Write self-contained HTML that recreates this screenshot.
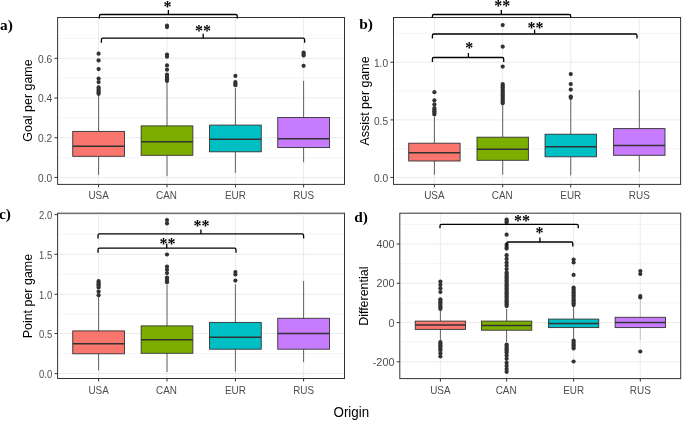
<!DOCTYPE html>
<html lang="en">
<head>
<meta charset="utf-8">
<title>Boxplots by Origin</title>
<style>
html,body{margin:0;padding:0;background:#fff;}
body{width:685px;height:421px;overflow:hidden;}
svg{display:block;}
.tk{font-family:'Liberation Sans', Arial, sans-serif;font-size:9.9px;fill:#4D4D4D;}
.tx{font-family:'Liberation Sans', Arial, sans-serif;fill:#4D4D4D;}
.tt{font-family:'Liberation Sans', Arial, sans-serif;font-size:12.45px;fill:#000;}
.lb{font-family:'Liberation Serif', 'Times New Roman', serif;font-size:15.4px;font-weight:bold;fill:#000;}
.st{font-family:'Liberation Serif', 'Times New Roman', serif;font-size:16px;font-weight:bold;fill:#000;}
</style>
</head>
<body>
<svg width="685" height="421" viewBox="0 0 685 421">
<defs><filter id="soft" x="0" y="0" width="685" height="421" filterUnits="userSpaceOnUse"><feGaussianBlur stdDeviation="0.33"/></filter></defs>
<rect x="0" y="0" width="685" height="421" fill="#fff"/>
<g filter="url(#soft)">
<rect x="57.6" y="17.5" width="286.9" height="166.9" fill="#fff"/>
<line x1="57.6" x2="344.5" y1="157.5" y2="157.5" stroke="#EBEBEB" stroke-width="0.5"/>
<line x1="57.6" x2="344.5" y1="117.8" y2="117.8" stroke="#EBEBEB" stroke-width="0.5"/>
<line x1="57.6" x2="344.5" y1="78.1" y2="78.1" stroke="#EBEBEB" stroke-width="0.5"/>
<line x1="57.6" x2="344.5" y1="38.5" y2="38.5" stroke="#EBEBEB" stroke-width="0.5"/>
<line x1="57.6" x2="344.5" y1="177.45" y2="177.45" stroke="#EBEBEB" stroke-width="1"/>
<line x1="57.6" x2="344.5" y1="137.7" y2="137.7" stroke="#EBEBEB" stroke-width="1"/>
<line x1="57.6" x2="344.5" y1="98" y2="98" stroke="#EBEBEB" stroke-width="1"/>
<line x1="57.6" x2="344.5" y1="58.3" y2="58.3" stroke="#EBEBEB" stroke-width="1"/>
<line x1="98.6" x2="98.6" y1="17.5" y2="184.4" stroke="#EBEBEB" stroke-width="1"/>
<line x1="167" x2="167" y1="17.5" y2="184.4" stroke="#EBEBEB" stroke-width="1"/>
<line x1="235.4" x2="235.4" y1="17.5" y2="184.4" stroke="#EBEBEB" stroke-width="1"/>
<line x1="303.6" x2="303.6" y1="17.5" y2="184.4" stroke="#EBEBEB" stroke-width="1"/>
<line x1="98.6" x2="98.6" y1="95" y2="131.4" stroke="#333" stroke-width="0.75"/>
<line x1="98.6" x2="98.6" y1="156.3" y2="174.9" stroke="#333" stroke-width="0.75"/>
<rect x="72.75" y="131.4" width="51.7" height="24.9" fill="#F8766D" stroke="#333" stroke-width="0.9"/>
<line x1="72.75" x2="124.45" y1="146.2" y2="146.2" stroke="#333" stroke-width="1.5"/>
<circle cx="98.6" cy="53.7" r="2.1" fill="#333"/>
<circle cx="98.6" cy="60.4" r="2.1" fill="#333"/>
<circle cx="98.6" cy="69.1" r="2.1" fill="#333"/>
<circle cx="98.6" cy="78.5" r="2.1" fill="#333"/>
<circle cx="98.6" cy="82.1" r="2.1" fill="#333"/>
<circle cx="98.6" cy="87.4" r="2.1" fill="#333"/>
<circle cx="98.6" cy="89" r="2.1" fill="#333"/>
<circle cx="98.6" cy="90.6" r="2.1" fill="#333"/>
<circle cx="98.6" cy="92.2" r="2.1" fill="#333"/>
<circle cx="98.6" cy="93.8" r="2.1" fill="#333"/>
<line x1="167" x2="167" y1="83" y2="125.9" stroke="#333" stroke-width="0.75"/>
<line x1="167" x2="167" y1="155.3" y2="176.2" stroke="#333" stroke-width="0.75"/>
<rect x="141.15" y="125.9" width="51.7" height="29.4" fill="#7CAE00" stroke="#333" stroke-width="0.9"/>
<line x1="141.15" x2="192.85" y1="141.7" y2="141.7" stroke="#333" stroke-width="1.5"/>
<circle cx="167" cy="25.7" r="2.1" fill="#333"/>
<circle cx="167" cy="27.1" r="2.1" fill="#333"/>
<circle cx="167" cy="54.5" r="2.1" fill="#333"/>
<circle cx="167" cy="56.7" r="2.1" fill="#333"/>
<circle cx="167" cy="65.4" r="2.1" fill="#333"/>
<circle cx="167" cy="69.7" r="2.1" fill="#333"/>
<circle cx="167" cy="74.5" r="2.1" fill="#333"/>
<circle cx="167" cy="76.1" r="2.1" fill="#333"/>
<circle cx="167" cy="77.7" r="2.1" fill="#333"/>
<circle cx="167" cy="79.3" r="2.1" fill="#333"/>
<circle cx="167" cy="80.9" r="2.1" fill="#333"/>
<line x1="235.4" x2="235.4" y1="88" y2="125.1" stroke="#333" stroke-width="0.75"/>
<line x1="235.4" x2="235.4" y1="151.8" y2="172.9" stroke="#333" stroke-width="0.75"/>
<rect x="209.55" y="125.1" width="51.7" height="26.7" fill="#00BFC4" stroke="#333" stroke-width="0.9"/>
<line x1="209.55" x2="261.25" y1="139.2" y2="139.2" stroke="#333" stroke-width="1.5"/>
<circle cx="235.4" cy="75.9" r="2.1" fill="#333"/>
<circle cx="235.4" cy="82" r="2.1" fill="#333"/>
<circle cx="235.4" cy="83.6" r="2.1" fill="#333"/>
<circle cx="235.4" cy="85.2" r="2.1" fill="#333"/>
<line x1="303.6" x2="303.6" y1="80.9" y2="117.5" stroke="#333" stroke-width="0.75"/>
<line x1="303.6" x2="303.6" y1="147.6" y2="162.3" stroke="#333" stroke-width="0.75"/>
<rect x="277.75" y="117.5" width="51.7" height="30.1" fill="#C77CFF" stroke="#333" stroke-width="0.9"/>
<line x1="277.75" x2="329.45" y1="138.7" y2="138.7" stroke="#333" stroke-width="1.5"/>
<circle cx="303.6" cy="52.5" r="2.1" fill="#333"/>
<circle cx="303.6" cy="54" r="2.1" fill="#333"/>
<circle cx="303.6" cy="55.5" r="2.1" fill="#333"/>
<circle cx="303.6" cy="65.8" r="2.1" fill="#333"/>
<rect x="57.6" y="17.5" width="286.9" height="166.9" fill="none" stroke="#333" stroke-width="1"/>
<line x1="54.5" x2="57.6" y1="177.45" y2="177.45" stroke="#333" stroke-width="1"/>
<text transform="translate(52.2,181.65) scale(1,1)" text-anchor="end" class="tx" font-size="10.2">0.0</text>
<line x1="54.5" x2="57.6" y1="137.7" y2="137.7" stroke="#333" stroke-width="1"/>
<text transform="translate(52.2,141.9) scale(1,1)" text-anchor="end" class="tx" font-size="10.2">0.2</text>
<line x1="54.5" x2="57.6" y1="98" y2="98" stroke="#333" stroke-width="1"/>
<text transform="translate(52.2,102.2) scale(1,1)" text-anchor="end" class="tx" font-size="10.2">0.4</text>
<line x1="54.5" x2="57.6" y1="58.3" y2="58.3" stroke="#333" stroke-width="1"/>
<text transform="translate(52.2,62.5) scale(1,1)" text-anchor="end" class="tx" font-size="10.2">0.6</text>
<line x1="98.6" x2="98.6" y1="184.4" y2="187.4" stroke="#333" stroke-width="1"/>
<text transform="translate(98.6,199.1) scale(0.92,1)" text-anchor="middle" class="tx" font-size="10.8">USA</text>
<line x1="167" x2="167" y1="184.4" y2="187.4" stroke="#333" stroke-width="1"/>
<text transform="translate(166.5,199.1) scale(0.92,1)" text-anchor="middle" class="tx" font-size="10.8">CAN</text>
<line x1="235.4" x2="235.4" y1="184.4" y2="187.4" stroke="#333" stroke-width="1"/>
<text transform="translate(235.4,199.1) scale(0.92,1)" text-anchor="middle" class="tx" font-size="10.8">EUR</text>
<line x1="303.6" x2="303.6" y1="184.4" y2="187.4" stroke="#333" stroke-width="1"/>
<text transform="translate(303.6,199.1) scale(0.92,1)" text-anchor="middle" class="tx" font-size="10.8">RUS</text>
<text transform="translate(31.5,100.5) rotate(-90)" text-anchor="middle" class="tt">Goal per game</text>
<text x="0.1" y="30.4" class="lb">a)</text>
<path d="M99.4 18.5 V16 Q99.4 14.5 100.9 14.5 H235.8 Q237.3 14.5 237.3 16 V18.5 M168.4 14.5 V10" fill="none" stroke="#000" stroke-width="1.3"/>
<text x="167.5" y="11.8" text-anchor="middle" class="st">*</text>
<path d="M101.4 42.7 V39.7 Q101.4 38.2 102.9 38.2 H303.1 Q304.6 38.2 304.6 39.7 V42.7 M203.2 38.2 V33.7" fill="none" stroke="#000" stroke-width="1.3"/>
<text x="203" y="36" text-anchor="middle" class="st">**</text>
<rect x="393.5" y="17.5" width="287.1" height="166.9" fill="#fff"/>
<line x1="393.5" x2="680.6" y1="148.7" y2="148.7" stroke="#EBEBEB" stroke-width="0.5"/>
<line x1="393.5" x2="680.6" y1="91" y2="91" stroke="#EBEBEB" stroke-width="0.5"/>
<line x1="393.5" x2="680.6" y1="33.4" y2="33.4" stroke="#EBEBEB" stroke-width="0.5"/>
<line x1="393.5" x2="680.6" y1="177.45" y2="177.45" stroke="#EBEBEB" stroke-width="1"/>
<line x1="393.5" x2="680.6" y1="119.9" y2="119.9" stroke="#EBEBEB" stroke-width="1"/>
<line x1="393.5" x2="680.6" y1="62.2" y2="62.2" stroke="#EBEBEB" stroke-width="1"/>
<line x1="434.4" x2="434.4" y1="17.5" y2="184.4" stroke="#EBEBEB" stroke-width="1"/>
<line x1="502.7" x2="502.7" y1="17.5" y2="184.4" stroke="#EBEBEB" stroke-width="1"/>
<line x1="570.75" x2="570.75" y1="17.5" y2="184.4" stroke="#EBEBEB" stroke-width="1"/>
<line x1="639.3" x2="639.3" y1="17.5" y2="184.4" stroke="#EBEBEB" stroke-width="1"/>
<line x1="434.4" x2="434.4" y1="117" y2="143.2" stroke="#333" stroke-width="0.75"/>
<line x1="434.4" x2="434.4" y1="161" y2="174.8" stroke="#333" stroke-width="0.75"/>
<rect x="408.7" y="143.2" width="51.4" height="17.8" fill="#F8766D" stroke="#333" stroke-width="0.9"/>
<line x1="408.7" x2="460.1" y1="152.7" y2="152.7" stroke="#333" stroke-width="1.5"/>
<circle cx="434.4" cy="92.2" r="2.1" fill="#333"/>
<circle cx="434.4" cy="100.3" r="2.1" fill="#333"/>
<circle cx="434.4" cy="104.4" r="2.1" fill="#333"/>
<circle cx="434.4" cy="108" r="2.1" fill="#333"/>
<circle cx="434.4" cy="109.6" r="2.1" fill="#333"/>
<circle cx="434.4" cy="111.2" r="2.1" fill="#333"/>
<circle cx="434.4" cy="112.8" r="2.1" fill="#333"/>
<circle cx="434.4" cy="114.4" r="2.1" fill="#333"/>
<line x1="502.7" x2="502.7" y1="104" y2="137.2" stroke="#333" stroke-width="0.75"/>
<line x1="502.7" x2="502.7" y1="160.3" y2="174.8" stroke="#333" stroke-width="0.75"/>
<rect x="477" y="137.2" width="51.4" height="23.1" fill="#7CAE00" stroke="#333" stroke-width="0.9"/>
<line x1="477" x2="528.4" y1="149.2" y2="149.2" stroke="#333" stroke-width="1.5"/>
<circle cx="502.7" cy="25.1" r="2.1" fill="#333"/>
<circle cx="502.7" cy="46.7" r="2.1" fill="#333"/>
<circle cx="502.7" cy="66.6" r="2.1" fill="#333"/>
<circle cx="502.7" cy="84" r="2.1" fill="#333"/>
<circle cx="502.7" cy="85.6" r="2.1" fill="#333"/>
<circle cx="502.7" cy="87.2" r="2.1" fill="#333"/>
<circle cx="502.7" cy="88.8" r="2.1" fill="#333"/>
<circle cx="502.7" cy="90.4" r="2.1" fill="#333"/>
<circle cx="502.7" cy="92" r="2.1" fill="#333"/>
<circle cx="502.7" cy="93.6" r="2.1" fill="#333"/>
<circle cx="502.7" cy="95.2" r="2.1" fill="#333"/>
<circle cx="502.7" cy="96.8" r="2.1" fill="#333"/>
<circle cx="502.7" cy="98.4" r="2.1" fill="#333"/>
<circle cx="502.7" cy="100" r="2.1" fill="#333"/>
<circle cx="502.7" cy="101.6" r="2.1" fill="#333"/>
<circle cx="502.7" cy="103.2" r="2.1" fill="#333"/>
<line x1="570.75" x2="570.75" y1="98.5" y2="134.2" stroke="#333" stroke-width="0.75"/>
<line x1="570.75" x2="570.75" y1="156.8" y2="175.4" stroke="#333" stroke-width="0.75"/>
<rect x="545.05" y="134.2" width="51.4" height="22.6" fill="#00BFC4" stroke="#333" stroke-width="0.9"/>
<line x1="545.05" x2="596.45" y1="146.7" y2="146.7" stroke="#333" stroke-width="1.5"/>
<circle cx="570.75" cy="74.1" r="2.1" fill="#333"/>
<circle cx="570.75" cy="84.1" r="2.1" fill="#333"/>
<circle cx="570.75" cy="89.6" r="2.1" fill="#333"/>
<circle cx="570.75" cy="96.5" r="2.1" fill="#333"/>
<circle cx="570.75" cy="97.8" r="2.1" fill="#333"/>
<line x1="639.3" x2="639.3" y1="90" y2="128.6" stroke="#333" stroke-width="0.75"/>
<line x1="639.3" x2="639.3" y1="155.3" y2="171.6" stroke="#333" stroke-width="0.75"/>
<rect x="613.6" y="128.6" width="51.4" height="26.7" fill="#C77CFF" stroke="#333" stroke-width="0.9"/>
<line x1="613.6" x2="665" y1="145.5" y2="145.5" stroke="#333" stroke-width="1.5"/>
<rect x="393.5" y="17.5" width="287.1" height="166.9" fill="none" stroke="#333" stroke-width="1"/>
<line x1="390.4" x2="393.5" y1="177.45" y2="177.45" stroke="#333" stroke-width="1"/>
<text transform="translate(388.1,182.05) scale(0.97,1)" text-anchor="end" class="tx" font-size="10.5">0.0</text>
<line x1="390.4" x2="393.5" y1="119.9" y2="119.9" stroke="#333" stroke-width="1"/>
<text transform="translate(388.1,124.5) scale(0.97,1)" text-anchor="end" class="tx" font-size="10.5">0.5</text>
<line x1="390.4" x2="393.5" y1="62.2" y2="62.2" stroke="#333" stroke-width="1"/>
<text transform="translate(388.1,66.8) scale(0.97,1)" text-anchor="end" class="tx" font-size="10.5">1.0</text>
<line x1="434.4" x2="434.4" y1="184.4" y2="187.4" stroke="#333" stroke-width="1"/>
<text transform="translate(434.4,199.1) scale(0.92,1)" text-anchor="middle" class="tx" font-size="10.8">USA</text>
<line x1="502.7" x2="502.7" y1="184.4" y2="187.4" stroke="#333" stroke-width="1"/>
<text transform="translate(502.2,199.1) scale(0.92,1)" text-anchor="middle" class="tx" font-size="10.8">CAN</text>
<line x1="570.75" x2="570.75" y1="184.4" y2="187.4" stroke="#333" stroke-width="1"/>
<text transform="translate(570.75,199.1) scale(0.92,1)" text-anchor="middle" class="tx" font-size="10.8">EUR</text>
<line x1="639.3" x2="639.3" y1="184.4" y2="187.4" stroke="#333" stroke-width="1"/>
<text transform="translate(639.3,199.1) scale(0.92,1)" text-anchor="middle" class="tx" font-size="10.8">RUS</text>
<text transform="translate(368.5,101) rotate(-90)" text-anchor="middle" class="tt">Assist per game</text>
<text x="359.3" y="29.2" class="lb">b)</text>
<path d="M432.4 18 V16 Q432.4 14.5 433.9 14.5 H569.2 Q570.7 14.5 570.7 16 V18 M501.3 14.5 V10" fill="none" stroke="#000" stroke-width="1.3"/>
<text x="502.3" y="11.2" text-anchor="middle" class="st">**</text>
<path d="M432.4 38.5 V35.5 Q432.4 34 433.9 34 H635.5 Q637 34 637 35.5 V38.5 M534.6 34 V29.5" fill="none" stroke="#000" stroke-width="1.3"/>
<text x="535.4" y="33.3" text-anchor="middle" class="st">**</text>
<path d="M432.4 62 V59 Q432.4 57.5 433.9 57.5 H502.2 Q503.7 57.5 503.7 59 V62 M468.4 57.5 V53" fill="none" stroke="#000" stroke-width="1.3"/>
<text x="469.3" y="53.3" text-anchor="middle" class="st">*</text>
<rect x="57.6" y="213.2" width="286.9" height="165.3" fill="#fff"/>
<line x1="57.6" x2="344.5" y1="353.6" y2="353.6" stroke="#EBEBEB" stroke-width="0.5"/>
<line x1="57.6" x2="344.5" y1="313.9" y2="313.9" stroke="#EBEBEB" stroke-width="0.5"/>
<line x1="57.6" x2="344.5" y1="274.3" y2="274.3" stroke="#EBEBEB" stroke-width="0.5"/>
<line x1="57.6" x2="344.5" y1="234.4" y2="234.4" stroke="#EBEBEB" stroke-width="0.5"/>
<line x1="57.6" x2="344.5" y1="373.6" y2="373.6" stroke="#EBEBEB" stroke-width="1"/>
<line x1="57.6" x2="344.5" y1="333.5" y2="333.5" stroke="#EBEBEB" stroke-width="1"/>
<line x1="57.6" x2="344.5" y1="294.3" y2="294.3" stroke="#EBEBEB" stroke-width="1"/>
<line x1="57.6" x2="344.5" y1="254.3" y2="254.3" stroke="#EBEBEB" stroke-width="1"/>
<line x1="57.6" x2="344.5" y1="214.6" y2="214.6" stroke="#EBEBEB" stroke-width="1"/>
<line x1="98.6" x2="98.6" y1="213.2" y2="378.5" stroke="#EBEBEB" stroke-width="1"/>
<line x1="167" x2="167" y1="213.2" y2="378.5" stroke="#EBEBEB" stroke-width="1"/>
<line x1="235.4" x2="235.4" y1="213.2" y2="378.5" stroke="#EBEBEB" stroke-width="1"/>
<line x1="303.6" x2="303.6" y1="213.2" y2="378.5" stroke="#EBEBEB" stroke-width="1"/>
<line x1="98.6" x2="98.6" y1="296" y2="330.9" stroke="#333" stroke-width="0.75"/>
<line x1="98.6" x2="98.6" y1="353.8" y2="370.4" stroke="#333" stroke-width="0.75"/>
<rect x="72.75" y="330.9" width="51.7" height="22.9" fill="#F8766D" stroke="#333" stroke-width="0.9"/>
<line x1="72.75" x2="124.45" y1="343.7" y2="343.7" stroke="#333" stroke-width="1.5"/>
<circle cx="98.6" cy="281" r="2.1" fill="#333"/>
<circle cx="98.6" cy="282.6" r="2.1" fill="#333"/>
<circle cx="98.6" cy="284.2" r="2.1" fill="#333"/>
<circle cx="98.6" cy="285.8" r="2.1" fill="#333"/>
<circle cx="98.6" cy="287.4" r="2.1" fill="#333"/>
<circle cx="98.6" cy="291.5" r="2.1" fill="#333"/>
<circle cx="98.6" cy="295.2" r="2.1" fill="#333"/>
<line x1="167" x2="167" y1="285" y2="325.9" stroke="#333" stroke-width="0.75"/>
<line x1="167" x2="167" y1="353.3" y2="372" stroke="#333" stroke-width="0.75"/>
<rect x="141.15" y="325.9" width="51.7" height="27.4" fill="#7CAE00" stroke="#333" stroke-width="0.9"/>
<line x1="141.15" x2="192.85" y1="339.7" y2="339.7" stroke="#333" stroke-width="1.5"/>
<circle cx="167" cy="220" r="2.1" fill="#333"/>
<circle cx="167" cy="223.4" r="2.1" fill="#333"/>
<circle cx="167" cy="254.5" r="2.1" fill="#333"/>
<circle cx="167" cy="266.6" r="2.1" fill="#333"/>
<circle cx="167" cy="269.7" r="2.1" fill="#333"/>
<circle cx="167" cy="273.1" r="2.1" fill="#333"/>
<circle cx="167" cy="277.5" r="2.1" fill="#333"/>
<circle cx="167" cy="279.1" r="2.1" fill="#333"/>
<circle cx="167" cy="280.7" r="2.1" fill="#333"/>
<circle cx="167" cy="282.3" r="2.1" fill="#333"/>
<line x1="235.4" x2="235.4" y1="284.2" y2="322.4" stroke="#333" stroke-width="0.75"/>
<line x1="235.4" x2="235.4" y1="349.2" y2="371.6" stroke="#333" stroke-width="0.75"/>
<rect x="209.55" y="322.4" width="51.7" height="26.8" fill="#00BFC4" stroke="#333" stroke-width="0.9"/>
<line x1="209.55" x2="261.25" y1="337.2" y2="337.2" stroke="#333" stroke-width="1.5"/>
<circle cx="235.4" cy="272" r="2.1" fill="#333"/>
<circle cx="235.4" cy="274.5" r="2.1" fill="#333"/>
<circle cx="235.4" cy="280.6" r="2.1" fill="#333"/>
<line x1="303.6" x2="303.6" y1="281" y2="318.3" stroke="#333" stroke-width="0.75"/>
<line x1="303.6" x2="303.6" y1="349.2" y2="362" stroke="#333" stroke-width="0.75"/>
<rect x="277.75" y="318.3" width="51.7" height="30.9" fill="#C77CFF" stroke="#333" stroke-width="0.9"/>
<line x1="277.75" x2="329.45" y1="333.4" y2="333.4" stroke="#333" stroke-width="1.5"/>
<rect x="57.6" y="213.2" width="286.9" height="165.3" fill="none" stroke="#333" stroke-width="1"/>
<line x1="54.5" x2="57.6" y1="373.6" y2="373.6" stroke="#333" stroke-width="1"/>
<text transform="translate(52.2,378.3) scale(0.92,1)" text-anchor="end" class="tx" font-size="10.3">0.0</text>
<line x1="54.5" x2="57.6" y1="333.5" y2="333.5" stroke="#333" stroke-width="1"/>
<text transform="translate(52.2,338.2) scale(0.92,1)" text-anchor="end" class="tx" font-size="10.3">0.5</text>
<line x1="54.5" x2="57.6" y1="294.3" y2="294.3" stroke="#333" stroke-width="1"/>
<text transform="translate(52.2,299) scale(0.92,1)" text-anchor="end" class="tx" font-size="10.3">1.0</text>
<line x1="54.5" x2="57.6" y1="254.3" y2="254.3" stroke="#333" stroke-width="1"/>
<text transform="translate(52.2,259) scale(0.92,1)" text-anchor="end" class="tx" font-size="10.3">1.5</text>
<line x1="54.5" x2="57.6" y1="214.6" y2="214.6" stroke="#333" stroke-width="1"/>
<text transform="translate(52.2,219.3) scale(0.92,1)" text-anchor="end" class="tx" font-size="10.3">2.0</text>
<line x1="98.6" x2="98.6" y1="378.5" y2="381.5" stroke="#333" stroke-width="1"/>
<text transform="translate(98.6,393.9) scale(0.92,1)" text-anchor="middle" class="tx" font-size="10.8">USA</text>
<line x1="167" x2="167" y1="378.5" y2="381.5" stroke="#333" stroke-width="1"/>
<text transform="translate(166.5,393.9) scale(0.92,1)" text-anchor="middle" class="tx" font-size="10.8">CAN</text>
<line x1="235.4" x2="235.4" y1="378.5" y2="381.5" stroke="#333" stroke-width="1"/>
<text transform="translate(235.4,393.9) scale(0.92,1)" text-anchor="middle" class="tx" font-size="10.8">EUR</text>
<line x1="303.6" x2="303.6" y1="378.5" y2="381.5" stroke="#333" stroke-width="1"/>
<text transform="translate(303.6,393.9) scale(0.92,1)" text-anchor="middle" class="tx" font-size="10.8">RUS</text>
<text transform="translate(31.5,296.1) rotate(-90)" text-anchor="middle" class="tt">Point per game</text>
<text x="-1" y="219" class="lb">c)</text>
<path d="M98 238.4 V235.4 Q98 233.9 99.5 233.9 H302.1 Q303.6 233.9 303.6 235.4 V238.4 M200.9 233.9 V229.4" fill="none" stroke="#000" stroke-width="1.3"/>
<text x="201.5" y="231.4" text-anchor="middle" class="st">**</text>
<path d="M98 252.7 V249.7 Q98 248.2 99.5 248.2 H234.5 Q236 248.2 236 249.7 V252.7 M166.7 248.2 V243.7" fill="none" stroke="#000" stroke-width="1.3"/>
<text x="167.6" y="248.5" text-anchor="middle" class="st">**</text>
<rect x="399.8" y="213.2" width="280.9" height="165.4" fill="#fff"/>
<line x1="399.8" x2="680.7" y1="342.2" y2="342.2" stroke="#EBEBEB" stroke-width="0.5"/>
<line x1="399.8" x2="680.7" y1="303" y2="303" stroke="#EBEBEB" stroke-width="0.5"/>
<line x1="399.8" x2="680.7" y1="263.7" y2="263.7" stroke="#EBEBEB" stroke-width="0.5"/>
<line x1="399.8" x2="680.7" y1="224.4" y2="224.4" stroke="#EBEBEB" stroke-width="0.5"/>
<line x1="399.8" x2="680.7" y1="361.8" y2="361.8" stroke="#EBEBEB" stroke-width="1"/>
<line x1="399.8" x2="680.7" y1="322.6" y2="322.6" stroke="#EBEBEB" stroke-width="1"/>
<line x1="399.8" x2="680.7" y1="283.3" y2="283.3" stroke="#EBEBEB" stroke-width="1"/>
<line x1="399.8" x2="680.7" y1="244" y2="244" stroke="#EBEBEB" stroke-width="1"/>
<line x1="440.4" x2="440.4" y1="213.2" y2="378.6" stroke="#EBEBEB" stroke-width="1"/>
<line x1="506.6" x2="506.6" y1="213.2" y2="378.6" stroke="#EBEBEB" stroke-width="1"/>
<line x1="573.6" x2="573.6" y1="213.2" y2="378.6" stroke="#EBEBEB" stroke-width="1"/>
<line x1="640.3" x2="640.3" y1="213.2" y2="378.6" stroke="#EBEBEB" stroke-width="1"/>
<line x1="440.4" x2="440.4" y1="311" y2="321.1" stroke="#333" stroke-width="0.75"/>
<line x1="440.4" x2="440.4" y1="329.4" y2="340" stroke="#333" stroke-width="0.75"/>
<rect x="415.25" y="321.1" width="50.3" height="8.3" fill="#F8766D" stroke="#333" stroke-width="0.9"/>
<line x1="415.25" x2="465.55" y1="325.1" y2="325.1" stroke="#333" stroke-width="1.5"/>
<circle cx="440.4" cy="281.5" r="2.1" fill="#333"/>
<circle cx="440.4" cy="284.9" r="2.1" fill="#333"/>
<circle cx="440.4" cy="288.3" r="2.1" fill="#333"/>
<circle cx="440.4" cy="292" r="2.1" fill="#333"/>
<circle cx="440.4" cy="299.3" r="2.1" fill="#333"/>
<circle cx="440.4" cy="300.9" r="2.1" fill="#333"/>
<circle cx="440.4" cy="302.5" r="2.1" fill="#333"/>
<circle cx="440.4" cy="304.1" r="2.1" fill="#333"/>
<circle cx="440.4" cy="305.7" r="2.1" fill="#333"/>
<circle cx="440.4" cy="307.3" r="2.1" fill="#333"/>
<circle cx="440.4" cy="308.9" r="2.1" fill="#333"/>
<circle cx="440.4" cy="342" r="2.1" fill="#333"/>
<circle cx="440.4" cy="343.6" r="2.1" fill="#333"/>
<circle cx="440.4" cy="345.2" r="2.1" fill="#333"/>
<circle cx="440.4" cy="346.8" r="2.1" fill="#333"/>
<circle cx="440.4" cy="348.4" r="2.1" fill="#333"/>
<circle cx="440.4" cy="350.2" r="2.1" fill="#333"/>
<circle cx="440.4" cy="353.3" r="2.1" fill="#333"/>
<circle cx="440.4" cy="356.5" r="2.1" fill="#333"/>
<line x1="506.6" x2="506.6" y1="309" y2="321.1" stroke="#333" stroke-width="0.75"/>
<line x1="506.6" x2="506.6" y1="330.2" y2="342" stroke="#333" stroke-width="0.75"/>
<rect x="481.45" y="321.1" width="50.3" height="9.1" fill="#7CAE00" stroke="#333" stroke-width="0.9"/>
<line x1="481.45" x2="531.75" y1="325.6" y2="325.6" stroke="#333" stroke-width="1.5"/>
<circle cx="506.6" cy="219.5" r="2.1" fill="#333"/>
<circle cx="506.6" cy="221" r="2.1" fill="#333"/>
<circle cx="506.6" cy="222.5" r="2.1" fill="#333"/>
<circle cx="506.6" cy="234.7" r="2.1" fill="#333"/>
<circle cx="506.6" cy="244.7" r="2.1" fill="#333"/>
<circle cx="506.6" cy="247" r="2.1" fill="#333"/>
<circle cx="506.6" cy="248.6" r="2.1" fill="#333"/>
<circle cx="506.6" cy="255.2" r="2.1" fill="#333"/>
<circle cx="506.6" cy="258.9" r="2.1" fill="#333"/>
<circle cx="506.6" cy="262.5" r="2.1" fill="#333"/>
<circle cx="506.6" cy="265.7" r="2.1" fill="#333"/>
<circle cx="506.6" cy="269.1" r="2.1" fill="#333"/>
<circle cx="506.6" cy="272.5" r="2.1" fill="#333"/>
<circle cx="506.6" cy="274.1" r="2.1" fill="#333"/>
<circle cx="506.6" cy="275.7" r="2.1" fill="#333"/>
<circle cx="506.6" cy="277.3" r="2.1" fill="#333"/>
<circle cx="506.6" cy="278.9" r="2.1" fill="#333"/>
<circle cx="506.6" cy="280.5" r="2.1" fill="#333"/>
<circle cx="506.6" cy="282.1" r="2.1" fill="#333"/>
<circle cx="506.6" cy="283.7" r="2.1" fill="#333"/>
<circle cx="506.6" cy="285.3" r="2.1" fill="#333"/>
<circle cx="506.6" cy="286.9" r="2.1" fill="#333"/>
<circle cx="506.6" cy="288.5" r="2.1" fill="#333"/>
<circle cx="506.6" cy="290.1" r="2.1" fill="#333"/>
<circle cx="506.6" cy="291.7" r="2.1" fill="#333"/>
<circle cx="506.6" cy="293.3" r="2.1" fill="#333"/>
<circle cx="506.6" cy="294.9" r="2.1" fill="#333"/>
<circle cx="506.6" cy="296.5" r="2.1" fill="#333"/>
<circle cx="506.6" cy="298.1" r="2.1" fill="#333"/>
<circle cx="506.6" cy="299.7" r="2.1" fill="#333"/>
<circle cx="506.6" cy="301.3" r="2.1" fill="#333"/>
<circle cx="506.6" cy="302.9" r="2.1" fill="#333"/>
<circle cx="506.6" cy="304.5" r="2.1" fill="#333"/>
<circle cx="506.6" cy="306.1" r="2.1" fill="#333"/>
<circle cx="506.6" cy="344.5" r="2.1" fill="#333"/>
<circle cx="506.6" cy="346.1" r="2.1" fill="#333"/>
<circle cx="506.6" cy="347.7" r="2.1" fill="#333"/>
<circle cx="506.6" cy="349.3" r="2.1" fill="#333"/>
<circle cx="506.6" cy="350.9" r="2.1" fill="#333"/>
<circle cx="506.6" cy="352.5" r="2.1" fill="#333"/>
<circle cx="506.6" cy="355.4" r="2.1" fill="#333"/>
<circle cx="506.6" cy="358.8" r="2.1" fill="#333"/>
<circle cx="506.6" cy="362.8" r="2.1" fill="#333"/>
<circle cx="506.6" cy="365.9" r="2.1" fill="#333"/>
<circle cx="506.6" cy="369.1" r="2.1" fill="#333"/>
<circle cx="506.6" cy="371.8" r="2.1" fill="#333"/>
<line x1="573.6" x2="573.6" y1="306" y2="319.1" stroke="#333" stroke-width="0.75"/>
<line x1="573.6" x2="573.6" y1="327.6" y2="338.5" stroke="#333" stroke-width="0.75"/>
<rect x="548.45" y="319.1" width="50.3" height="8.5" fill="#00BFC4" stroke="#333" stroke-width="0.9"/>
<line x1="548.45" x2="598.75" y1="323.4" y2="323.4" stroke="#333" stroke-width="1.5"/>
<circle cx="573.6" cy="259.5" r="2.1" fill="#333"/>
<circle cx="573.6" cy="262.5" r="2.1" fill="#333"/>
<circle cx="573.6" cy="274.9" r="2.1" fill="#333"/>
<circle cx="573.6" cy="287.5" r="2.1" fill="#333"/>
<circle cx="573.6" cy="289.1" r="2.1" fill="#333"/>
<circle cx="573.6" cy="290.7" r="2.1" fill="#333"/>
<circle cx="573.6" cy="292.3" r="2.1" fill="#333"/>
<circle cx="573.6" cy="293.9" r="2.1" fill="#333"/>
<circle cx="573.6" cy="295.5" r="2.1" fill="#333"/>
<circle cx="573.6" cy="297.1" r="2.1" fill="#333"/>
<circle cx="573.6" cy="298.7" r="2.1" fill="#333"/>
<circle cx="573.6" cy="300.3" r="2.1" fill="#333"/>
<circle cx="573.6" cy="301.9" r="2.1" fill="#333"/>
<circle cx="573.6" cy="303.5" r="2.1" fill="#333"/>
<circle cx="573.6" cy="305.1" r="2.1" fill="#333"/>
<circle cx="573.6" cy="340.5" r="2.1" fill="#333"/>
<circle cx="573.6" cy="342.1" r="2.1" fill="#333"/>
<circle cx="573.6" cy="343.7" r="2.1" fill="#333"/>
<circle cx="573.6" cy="345.3" r="2.1" fill="#333"/>
<circle cx="573.6" cy="346.9" r="2.1" fill="#333"/>
<circle cx="573.6" cy="348.5" r="2.1" fill="#333"/>
<circle cx="573.6" cy="361.5" r="2.1" fill="#333"/>
<line x1="640.3" x2="640.3" y1="300" y2="317.3" stroke="#b3b3b3" stroke-width="0.75"/>
<line x1="640.3" x2="640.3" y1="327.6" y2="340.2" stroke="#b3b3b3" stroke-width="0.75"/>
<rect x="615.15" y="317.3" width="50.3" height="10.3" fill="#C77CFF" stroke="#333" stroke-width="0.9"/>
<line x1="615.15" x2="665.45" y1="322.6" y2="322.6" stroke="#333" stroke-width="1.5"/>
<circle cx="640.3" cy="271" r="2.1" fill="#333"/>
<circle cx="640.3" cy="274" r="2.1" fill="#333"/>
<circle cx="640.3" cy="296" r="2.1" fill="#333"/>
<circle cx="640.3" cy="297.5" r="2.1" fill="#333"/>
<circle cx="640.3" cy="351.5" r="2.1" fill="#333"/>
<rect x="399.8" y="213.2" width="280.9" height="165.4" fill="none" stroke="#333" stroke-width="1"/>
<line x1="396.7" x2="399.8" y1="361.8" y2="361.8" stroke="#333" stroke-width="1"/>
<text transform="translate(394.4,365.8) scale(1,1)" text-anchor="end" class="tx" font-size="10.8">-200</text>
<line x1="396.7" x2="399.8" y1="322.6" y2="322.6" stroke="#333" stroke-width="1"/>
<text transform="translate(394.4,326.6) scale(1,1)" text-anchor="end" class="tx" font-size="10.8">0</text>
<line x1="396.7" x2="399.8" y1="283.3" y2="283.3" stroke="#333" stroke-width="1"/>
<text transform="translate(394.4,287.3) scale(1,1)" text-anchor="end" class="tx" font-size="10.8">200</text>
<line x1="396.7" x2="399.8" y1="244" y2="244" stroke="#333" stroke-width="1"/>
<text transform="translate(394.4,248) scale(1,1)" text-anchor="end" class="tx" font-size="10.8">400</text>
<line x1="440.4" x2="440.4" y1="378.6" y2="381.6" stroke="#333" stroke-width="1"/>
<text transform="translate(440.4,394) scale(0.92,1)" text-anchor="middle" class="tx" font-size="10.8">USA</text>
<line x1="506.6" x2="506.6" y1="378.6" y2="381.6" stroke="#333" stroke-width="1"/>
<text transform="translate(506.1,394) scale(0.92,1)" text-anchor="middle" class="tx" font-size="10.8">CAN</text>
<line x1="573.6" x2="573.6" y1="378.6" y2="381.6" stroke="#333" stroke-width="1"/>
<text transform="translate(573.6,394) scale(0.92,1)" text-anchor="middle" class="tx" font-size="10.8">EUR</text>
<line x1="640.3" x2="640.3" y1="378.6" y2="381.6" stroke="#333" stroke-width="1"/>
<text transform="translate(640.3,394) scale(0.92,1)" text-anchor="middle" class="tx" font-size="10.8">RUS</text>
<text transform="translate(367.7,296.2) rotate(-90)" text-anchor="middle" class="tt">Differential</text>
<text x="354.2" y="221.9" class="lb">d)</text>
<path d="M440 228.3 V225.8 Q440 224.3 441.5 224.3 H576.8 Q578.3 224.3 578.3 225.8 V228.3" fill="none" stroke="#000" stroke-width="1.3"/>
<text x="522" y="225.9" text-anchor="middle" class="st">**</text>
<path d="M506.8 246.5 V243.5 Q506.8 242 508.3 242 H571.3 Q572.8 242 572.8 243.5 V246.5 M539.9 242 V237.5" fill="none" stroke="#000" stroke-width="1.3"/>
<text x="539.5" y="238.1" text-anchor="middle" class="st">*</text>
<text transform="translate(351.3,417.4) scale(0.96,1)" text-anchor="middle" class="tt" style="font-size:13.9px">Origin</text>
</g>
</svg>
</body>
</html>
